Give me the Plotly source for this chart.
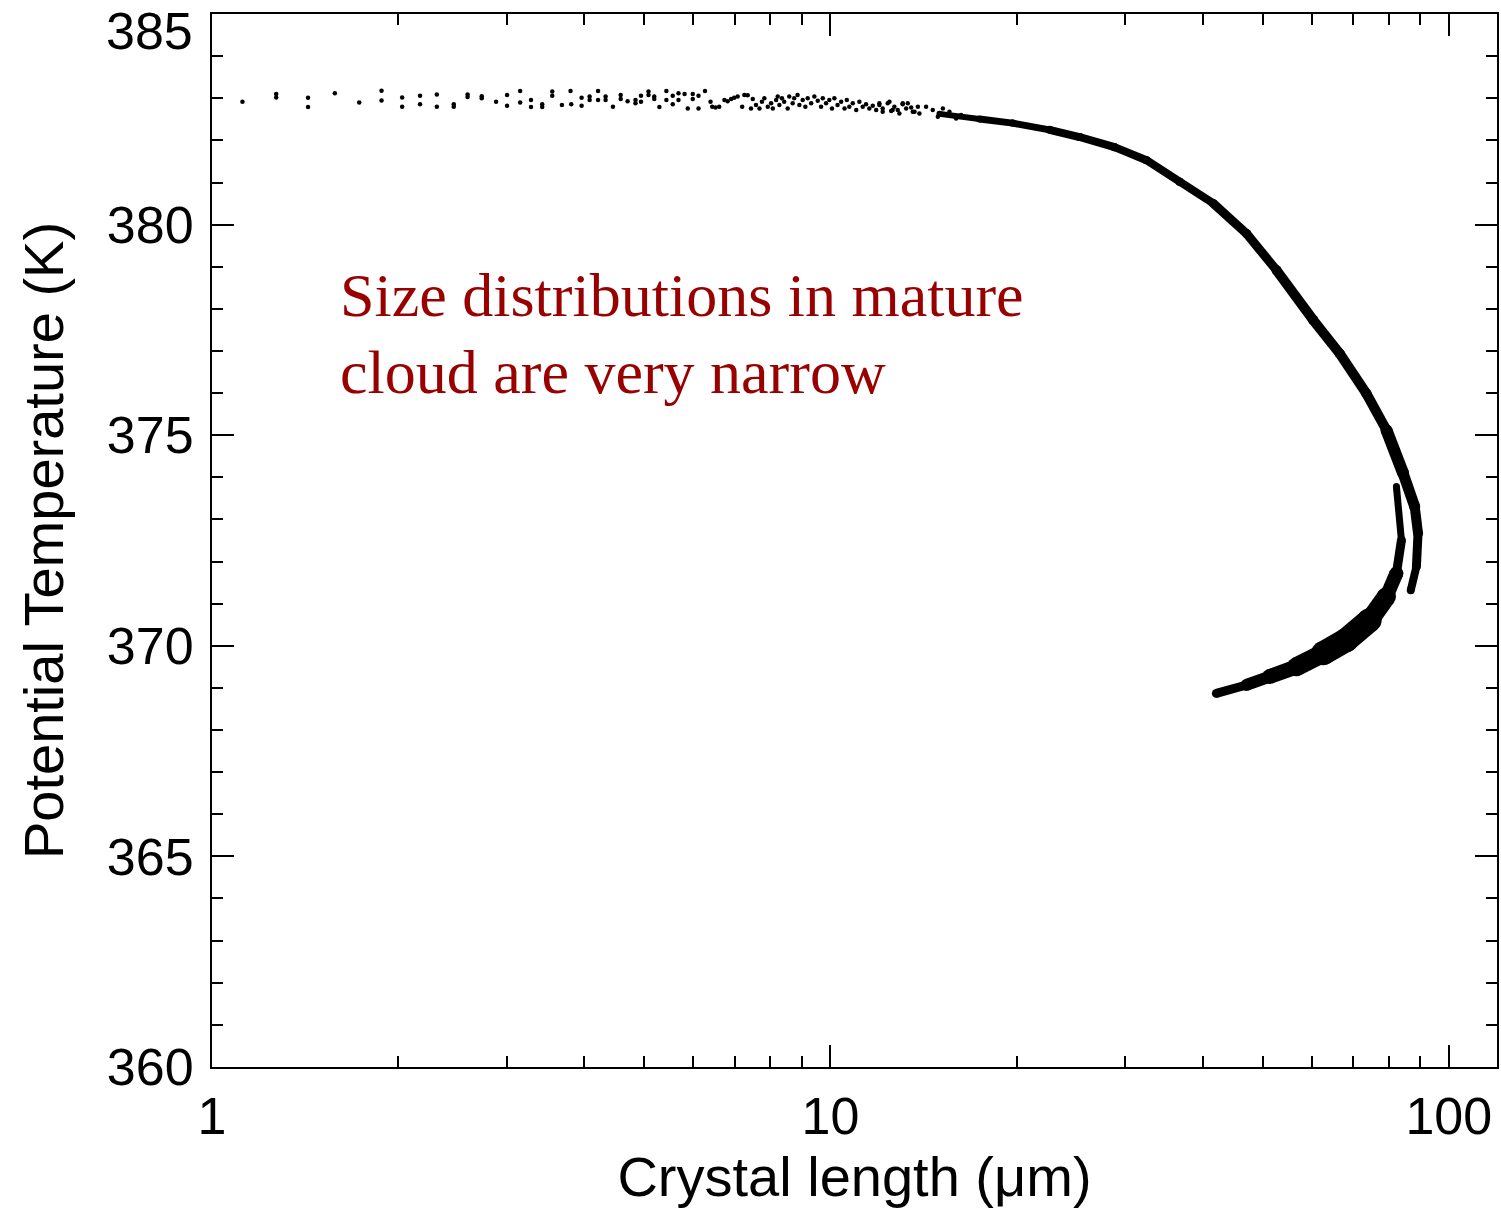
import plotly.graph_objects as go

# Sparse individual crystals near cloud top (length in micrometres, theta in K)
spread_len = [
    1.12, 1.27, 1.27, 1.43, 1.43, 1.58, 1.73, 1.88, 1.88, 2.03, 2.03, 2.17, 2.17,
    2.31, 2.31, 2.46, 2.46, 2.59, 2.59, 2.73, 2.73, 2.88, 3.00, 3.00, 3.15, 3.15,
    3.28, 3.28, 3.42, 3.42, 3.55, 3.55, 3.68, 3.80, 3.81,
    3.96, 3.96, 4.08, 4.08, 4.21, 4.21, 4.33, 4.33, 4.45, 4.58, 4.58, 4.70, 4.84,
    4.84, 4.94, 4.94, 5.08, 5.08, 5.19, 5.19, 5.29, 5.43, 5.43, 5.56, 5.56, 5.68,
    5.68, 5.81, 5.88, 5.99, 5.99, 6.12, 6.12, 6.27, 6.40, 6.44, 6.52,
    6.61, 6.74, 6.82, 6.91, 6.99, 7.08, 7.20, 7.26, 7.35, 7.44, 7.49, 7.58, 7.68,
    7.75, 7.82, 7.92, 8.02, 8.07, 8.17, 8.22, 8.27, 8.35, 8.42, 8.53, 8.58, 8.69,
    8.74, 8.85, 8.91, 9.02, 9.11, 9.19, 9.31, 9.42, 9.54, 9.66, 9.72, 9.84, 9.96,
    10.06, 10.15, 10.27, 10.41, 10.54, 10.63, 10.73, 10.87, 11.01, 11.14, 11.28,
    11.42, 11.56, 11.71, 11.86, 12.00, 12.15, 12.38, 12.54, 12.69, 12.85, 13.09,
    13.26, 13.51, 13.68, 13.85,
    12.00, 12.15, 12.46, 12.61, 12.93, 13.09, 13.34, 13.59, 13.93, 14.28, 14.64,
    14.92, 15.20, 15.58, 15.97, 16.27,
]
spread_theta = [
    382.92, 383.10, 383.02, 383.01, 382.79, 383.12, 382.90, 383.18, 382.95, 383.02,
    382.80, 383.06, 382.86, 383.09, 382.80, 382.86, 382.80, 383.09, 383.03, 383.05,
    383.00, 382.92, 383.08, 382.82, 383.17, 382.90, 382.96, 382.79, 382.86, 382.79,
    383.16, 383.06, 382.84, 383.17, 382.86,
    383.01, 382.82, 383.04, 382.96, 383.17, 382.96, 383.04, 382.96, 382.80, 383.08,
    382.98, 382.93, 382.96, 382.88, 383.06, 382.92, 383.16, 383.08, 383.04, 382.98,
    382.79, 383.17, 382.96, 383.06, 382.86, 383.12, 382.96, 383.10, 382.76, 383.10,
    382.98, 382.76, 383.06, 383.17, 382.92, 382.80, 382.78,
    382.80, 382.96, 382.93, 382.98, 383.01, 383.04, 382.80, 383.08, 383.07, 382.76,
    382.98, 382.84, 382.76, 382.92, 383.00, 382.80, 382.88, 382.76, 382.96, 383.04,
    382.84, 383.00, 382.92, 382.76, 383.04, 382.88, 383.00, 383.08, 382.84, 382.96,
    382.80, 383.00, 382.88, 383.04, 382.94, 382.80, 383.00, 382.88, 382.96, 382.76,
    383.00, 382.84, 382.92, 382.76, 382.96, 382.80, 382.88, 382.72, 382.92, 382.80,
    382.86, 382.76, 382.82, 382.72, 382.84, 382.76, 382.88, 382.70, 382.80, 382.72,
    382.86, 382.76, 382.78, 382.68, 382.80,
    382.88, 382.68, 382.92, 382.72, 382.64, 382.88, 382.88, 382.68, 382.64, 382.80,
    382.72, 382.56, 382.76, 382.68, 382.52, 382.60,
]

# Dense population: upper arc as crystals grow and start to sediment
arc_len = [15.01, 17.42, 19.71, 22.61, 25.29, 28.81, 32.45, 36.71, 41.56]
arc_theta = [382.63, 382.51, 382.41, 382.25, 382.08, 381.84, 381.53, 381.02, 380.51]

# Falling crystals
descent_len = [41.56, 47.07, 52.64, 60.32, 66.62, 73.58, 79.30, 84.35]
descent_theta = [380.51, 379.79, 378.92, 377.74, 376.94, 375.99, 375.12, 374.10]

# Outer branch of largest crystals
outer_len = [84.35, 88.10, 89.19, 88.65, 86.80]
outer_theta = [374.10, 373.30, 372.67, 371.88, 371.32]

# Inner branch
inner_len = [82.29, 83.84, 82.29, 79.30]
inner_theta = [373.78, 372.51, 371.72, 371.17]

# Sublimating crystals below the cloud
hook_len = [79.30, 74.50, 68.31, 62.60, 56.69, 51.33, 47.07, 42.09]
hook_theta = [371.17, 370.61, 370.14, 369.82, 369.50, 369.27, 369.07, 368.87]

x_major = [1, 10, 100]
x_minor = [2, 3, 4, 5, 6, 7, 8, 9, 20, 30, 40, 50, 60, 70, 80, 90]
y_major = [360, 365, 370, 375, 380, 385]

# Band thickness (px) for each interval of the dense branches
arc_w = [6, 7, 7, 8, 8, 8, 8, 8]
descent_w = [9, 9, 10, 10, 10, 10, 12]
outer_w = [11, 10, 9, 8]
inner_w = [7, 9, 14]
hook_w = [19, 24, 24, 19, 15, 12, 9]

SANS = "Liberation Sans, Arial, sans-serif"
SERIF = "Liberation Serif, Times New Roman, serif"

fig = go.Figure()

fig.add_trace(go.Scatter(
    x=spread_len, y=spread_theta, mode="markers",
    marker=dict(size=4.5, color="black"), hoverinfo="skip",
))

for xs, ys, ws in [
    (arc_len, arc_theta, arc_w),
    (descent_len, descent_theta, descent_w),
    (outer_len, outer_theta, outer_w),
    (inner_len, inner_theta, inner_w),
    (hook_len, hook_theta, hook_w),
]:
    for i, w in enumerate(ws):
        fig.add_trace(go.Scatter(
            x=xs[i:i + 2], y=ys[i:i + 2], mode="lines+markers",
            line=dict(color="black", width=w),
            marker=dict(color="black", size=w),
            hoverinfo="skip",
        ))

axis_common = dict(
    showline=True, linecolor="black", linewidth=2, mirror="ticks",
    ticks="inside", tickcolor="black", tickwidth=1.5, ticklen=22,
    showgrid=False, zeroline=False,
    tickfont=dict(family=SANS, size=52, color="black"),
)

fig.update_xaxes(
    type="log", range=[0, 2.078],
    tickmode="array", tickvals=x_major, ticktext=[str(v) for v in x_major],
    minor=dict(tickmode="array", tickvals=x_minor, ticks="inside",
               ticklen=11, tickwidth=1.5, tickcolor="black"),
    title=dict(text="Crystal length (\u03bcm)",
               font=dict(family=SANS, size=56, color="black"), standoff=8),
    ticklabelstandoff=3,
    **axis_common,
)
# the top label (385) is drawn separately, nudged down inside the page
fig.update_yaxes(
    range=[359.999, 385.001],
    tickmode="array", tickvals=y_major,
    ticktext=[str(v) for v in y_major[:-1]] + [""],
    minor=dict(dtick=1, ticks="inside", ticklen=11, tickwidth=1.5,
               tickcolor="black"),
    title=dict(text="Potential Temperature (K)",
               font=dict(family=SANS, size=56, color="black"), standoff=25),
    ticklabelstandoff=6,
    **axis_common,
)
fig.add_annotation(
    text=str(y_major[-1]), xref="paper", yref="y",
    x=0, y=y_major[-1], xanchor="right", yanchor="middle",
    xshift=-17, yshift=-17, showarrow=False,
    font=dict(family=SANS, size=52, color="black"),
)

fig.add_annotation(
    text="Size distributions in mature", xref="paper", yref="paper",
    x=0.098, y=0.733, xanchor="left", yanchor="middle", showarrow=False,
    font=dict(family=SERIF, size=62, color="#990000"),
)
fig.add_annotation(
    text="cloud are very narrow", xref="paper", yref="paper",
    x=0.098, y=0.660, xanchor="left", yanchor="middle", showarrow=False,
    font=dict(family=SERIF, size=62, color="#990000"),
)

fig.update_layout(
    width=1501, height=1214,
    margin=dict(l=212, r=4, t=14, b=147, autoexpand=False),
    paper_bgcolor="white", plot_bgcolor="white",
    showlegend=False,
)

fig.write_html("out.html")
